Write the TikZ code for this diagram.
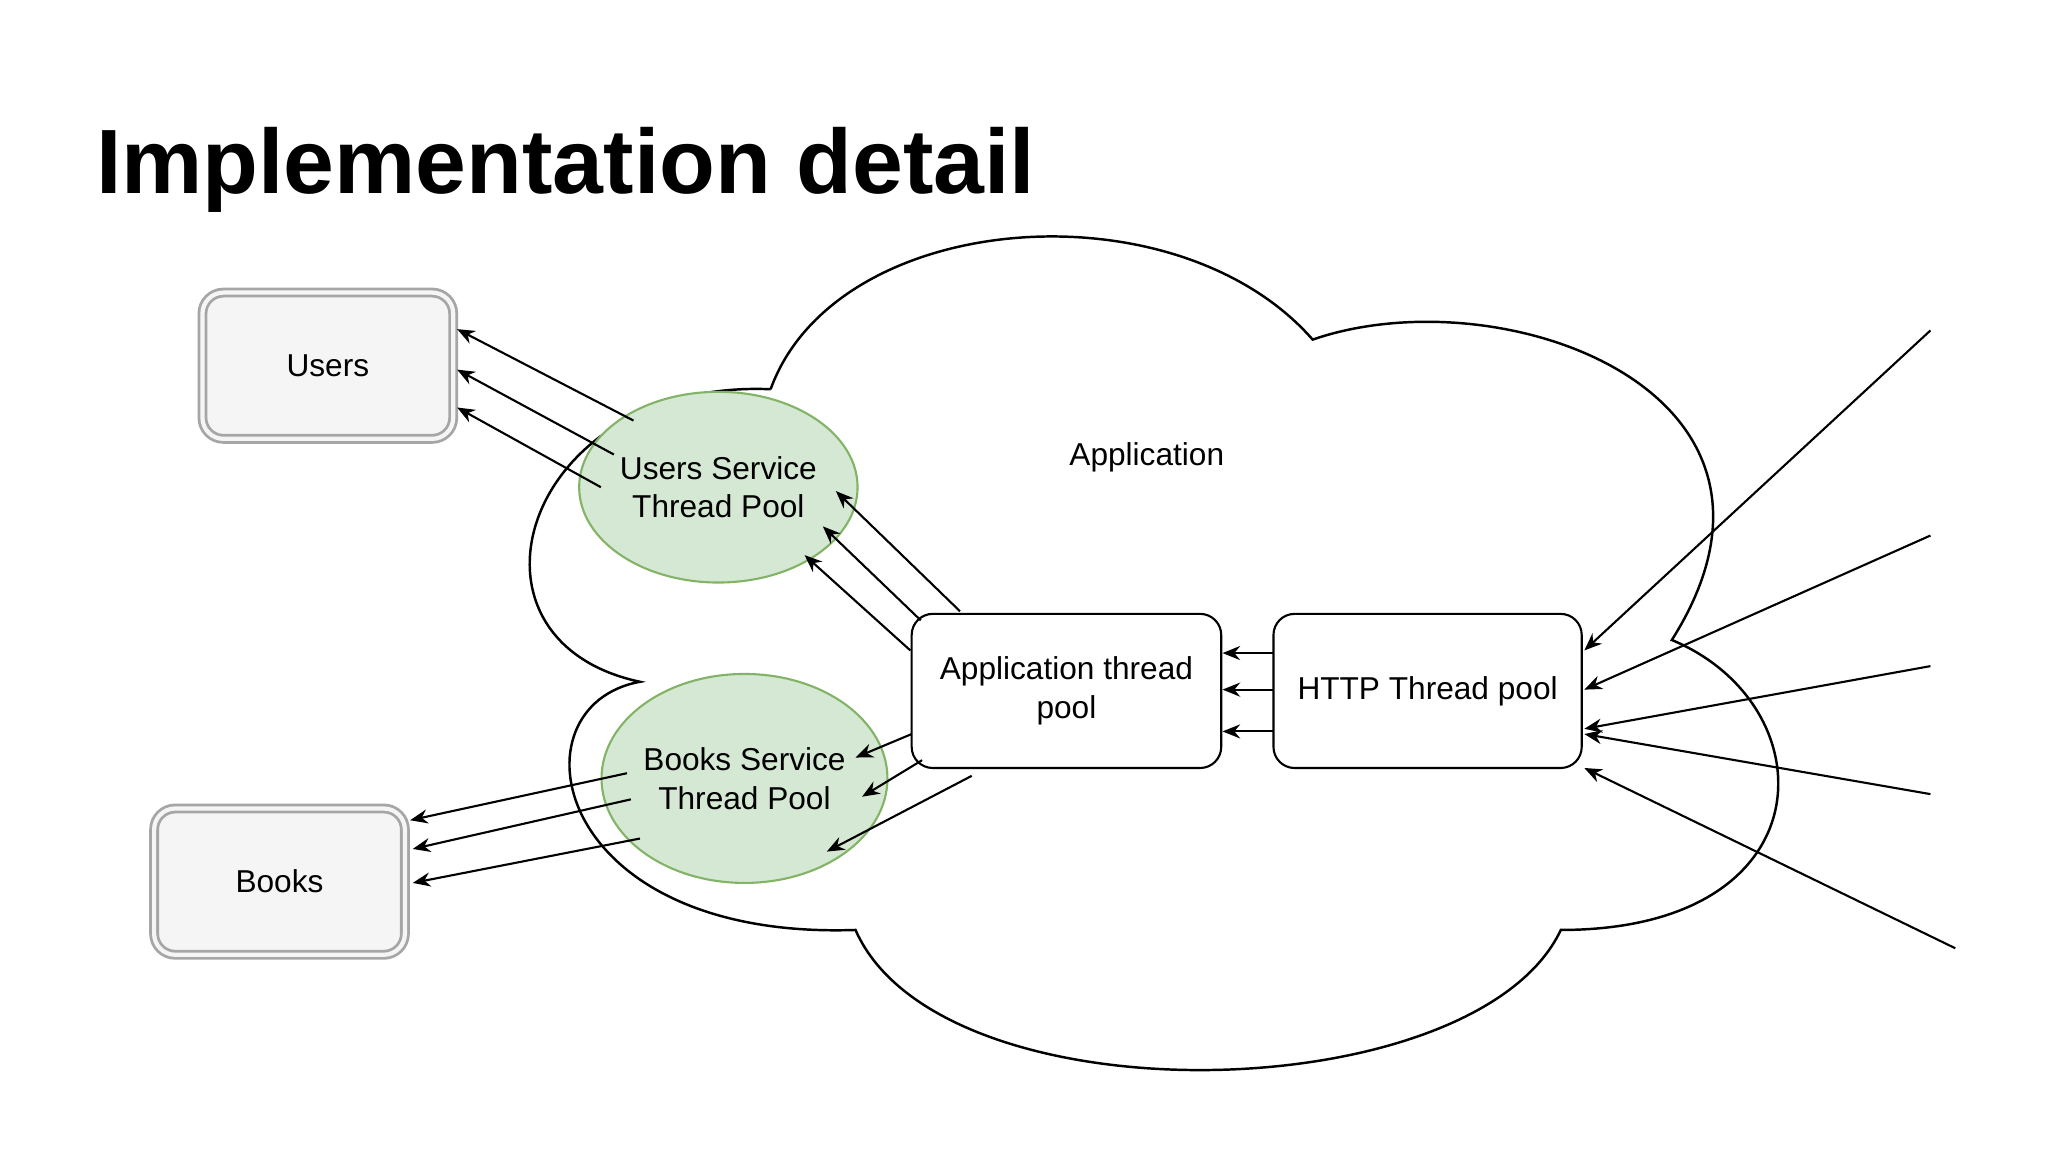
\documentclass[tikz,border=0pt]{standalone}
\usepackage{fontspec}
\setmainfont{Liberation Sans}
\usetikzlibrary{arrows.meta,shapes.geometric}
\definecolor{boxgray}{HTML}{F5F5F5}
\definecolor{greenfill}{HTML}{D5E8D4}
\definecolor{greenline}{HTML}{82B366}
\begin{document}
\begin{tikzpicture}[x=0.01306cm,y=-0.01306cm,
  txt/.style={font=\fontsize{9}{11}\selectfont,align=center},
  store/.style={draw=gray!70,double=boxgray,double distance=1.2pt,fill=boxgray,rounded corners=6pt,line width=0.8pt,txt},
  pool/.style={ellipse,draw=greenline,fill=greenfill,line width=0.6pt,txt,inner sep=0pt},
  box/.style={draw,rounded corners=6pt,line width=0.6pt,txt,fill=white},
  arr/.style={-{Stealth[length=5pt,width=4pt]},line width=0.6pt}]
\useasboundingbox (0,0) rectangle (1568,882);
\node[anchor=west,font=\fontsize{26}{30}\selectfont\bfseries] (title) at (64,130) {Implementation detail};
% cloud
\draw[line width=0.7pt] (590,298) .. controls (640,160) and (900,140) .. (1005,260)
  .. controls (1150,210) and (1400,300) .. (1280,490)
  .. controls (1400,540) and (1400,712) .. (1195,712)
  .. controls (1130,850) and (720,860) .. (655,712)
  .. controls (420,720) and (390,540) .. (490,522)
  .. controls (340,490) and (400,290) .. (590,298);
\node[txt] (app) at (878,350) {Application};
\node[store,minimum width=192*0.01306cm,minimum height=112*0.01306cm] (users) at (251,280) {Users};
\node[store,minimum width=192*0.01306cm,minimum height=112*0.01306cm] (books) at (214,675) {Books};
\node[pool,minimum width=180*0.01306cm,minimum height=146*0.01306cm] (usp) at (550,373) {Users Service\\Thread Pool};
\node[pool,minimum width=176*0.01306cm,minimum height=160*0.01306cm] (bsp) at (570,596) {Books Service\\Thread Pool};
\node[box,minimum width=237*0.01306cm,minimum height=118*0.01306cm] (atp) at (816.5,529) {Application thread\\pool};
\node[box,minimum width=236*0.01306cm,minimum height=118*0.01306cm] (http) at (1093,529) {HTTP Thread pool};
% endpoints
\foreach \n/\x/\y in {u1/350/252,u2/350/283,u3/350/312,s1/485/322,s2/470/348,s3/460/373,
  a1/735/468,a2/705/475,a3/697/498,t1/640/376,t2/630/403,t3/616/425,
  c1/698/562,c2/706/582,c3/744/594,d1/655/580,d2/660/610,d3/633/652,
  e1/480/592,e2/483/612,e3/490/642,b1/314/628,b2/316/650,b3/316/676,
  h1/975/500,h2/975/528,h3/975/560,p1/936/500,p2/936/528,p3/936/560,
  x1/1478/253,x2/1478/410,x3/1478/510,x4/1478/608,x5/1497/726,
  y1/1213/498,y2/1213/528,y3/1213/558,y4/1213/562,y5/1213/588}
  \coordinate (\n) at (\x,\y);
\foreach \i in {1,2,3} {
  \draw[arr] (s\i) -- (u\i);
  \draw[arr] (a\i) -- (t\i);
  \draw[arr] (c\i) -- (d\i);
  \draw[arr] (e\i) -- (b\i);
  \draw[arr] (h\i) -- (p\i);
}
\foreach \i in {1,...,5} \draw[arr] (x\i) -- (y\i);
\end{tikzpicture}
\end{document}
